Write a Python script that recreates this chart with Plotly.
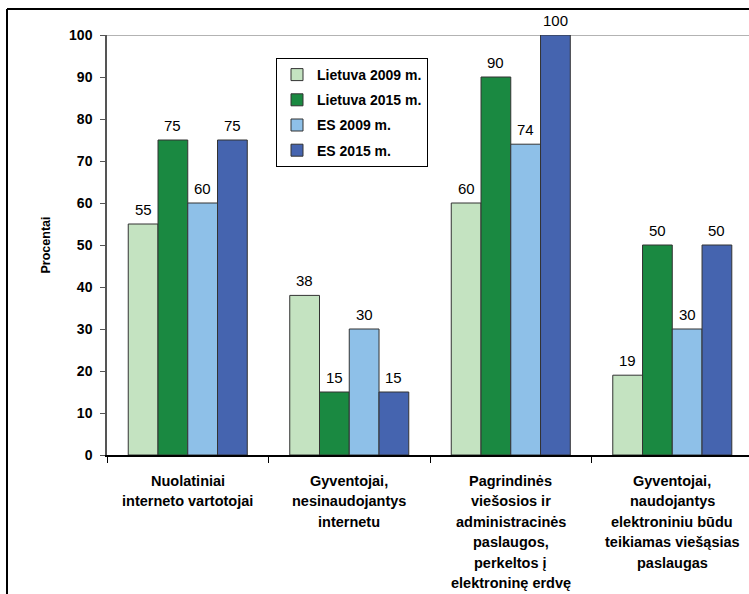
import plotly.graph_objects as go

categories = [
    "Nuolatiniai<br>interneto vartotojai",
    "Gyventojai,<br>nesinaudojantys<br>internetu",
    "Pagrindinės<br>viešosios ir<br>administracinės<br>paslaugos,<br>perkeltos į<br>elektroninę erdvę",
    "Gyventojai,<br>naudojantys<br>elektroniniu būdu<br>teikiamas viešąsias<br>paslaugas",
]
series_names = ["Lietuva 2009 m.", "Lietuva 2015 m.", "ES 2009 m.", "ES 2015 m."]
lt_2009 = [55, 38, 60, 19]
lt_2015 = [75, 15, 90, 50]
es_2009 = [60, 30, 74, 30]
es_2015 = [75, 15, 100, 50]
y_ticks = [0, 10, 20, 30, 40, 50, 60, 70, 80, 90, 100]

colors = ["#C4E3C1", "#1A8941", "#8EC0E8", "#4564AF"]
series_values = [lt_2009, lt_2015, es_2009, es_2015]

FONT = "Liberation Sans, Arial, sans-serif"
BARGAP = 0.263
n_series = len(series_values)

fig = go.Figure()
for i, (name, vals) in enumerate(zip(series_names, series_values)):
    fig.add_trace(go.Bar(
        name=name,
        x=list(range(len(categories))),
        y=vals,
        marker=dict(color=colors[i], line=dict(color="#333333", width=1)),
        legendgroup=f"g{i}",
    ))

# figure geometry
W, H = 749, 594
ML, MR, MT, MB = 107, 0, 35, 139
pw, ph = W - ML - MR, H - MT - MB

def px_to_paper_x(px):
    return (px - ML) / pw

def px_to_paper_y(py):
    return (H - MB - py) / ph

shapes = [
    dict(type="line", xref="paper", yref="paper",
         x0=px_to_paper_x(7), x1=px_to_paper_x(W + 5), y0=px_to_paper_y(9), y1=px_to_paper_y(9),
         line=dict(color="black", width=2)),
    dict(type="line", xref="paper", yref="paper",
         x0=px_to_paper_x(7), x1=px_to_paper_x(7), y0=px_to_paper_y(9), y1=px_to_paper_y(H + 5),
         line=dict(color="black", width=2)),
    dict(type="line", xref="paper", yref="y",
         x0=0, x1=1, y0=100, y1=100,
         line=dict(color="#9a9a9a", width=1.5), layer="below"),
]

annotations = []
# value labels above bars (positioned via the data axes)
bar_w = (1 - BARGAP) / n_series
for si, vals in enumerate(series_values):
    off = (si - (n_series - 1) / 2) * bar_w
    for ci, v in enumerate(vals):
        annotations.append(dict(
            x=ci + off, xref="x", y=v, yref="y",
            text=str(v), showarrow=False,
            xanchor="center", yanchor="bottom", yshift=4,
            font=dict(family=FONT, size=15, color="black"),
        ))

# category labels
line_gap = 20.4
for ci, cat in enumerate(categories):
    for li, line in enumerate(cat.split("<br>")):
        annotations.append(dict(
            x=ci, xref="x", y=0, yref="paper",
            text=line, showarrow=False,
            xanchor="center", yanchor="middle",
            yshift=-26 - li * line_gap,
            font=dict(family=FONT, size=14.5, color="black", weight="bold"),
        ))

fig.update_layout(
    width=W, height=H,
    margin=dict(l=ML, r=MR, t=MT, b=MB, pad=0),
    paper_bgcolor="white", plot_bgcolor="white",
    barmode="group", bargap=BARGAP, bargroupgap=0,
    font=dict(family=FONT, color="black"),
    showlegend=True,
    legend=dict(
        x=px_to_paper_x(276), y=px_to_paper_y(58), xanchor="left", yanchor="top",
        bgcolor="white", bordercolor="black", borderwidth=1,
        font=dict(family=FONT, size=14, color="black", weight="bold"),
        traceorder="grouped", tracegroupgap=4, itemwidth=30,
    ),
    xaxis=dict(
        type="linear", range=[-0.5, 3.475],
        tickmode="array", tickvals=[-0.5, 0.5, 1.5, 2.5], ticktext=["", "", "", ""],
        ticks="outside", ticklen=6, tickcolor="black", tickwidth=1,
        showline=True, linecolor="black", linewidth=1.5,
        showgrid=False, zeroline=False, fixedrange=True,
    ),
    yaxis=dict(
        range=[0, 100], tickvals=y_ticks,
        ticks="outside", ticklen=5, tickcolor="#555555", tickwidth=1,
        showline=True, linecolor="#555555", linewidth=1.5,
        showgrid=False, zeroline=False,
        ticklabelstandoff=5,
        tickfont=dict(family=FONT, size=14, color="black", weight="bold"),
        title=dict(text="Procentai", standoff=16,
                   font=dict(family=FONT, size=12.5, color="black", weight="bold")),
    ),
    shapes=shapes,
    annotations=annotations,
)

fig.write_html("out.html")
